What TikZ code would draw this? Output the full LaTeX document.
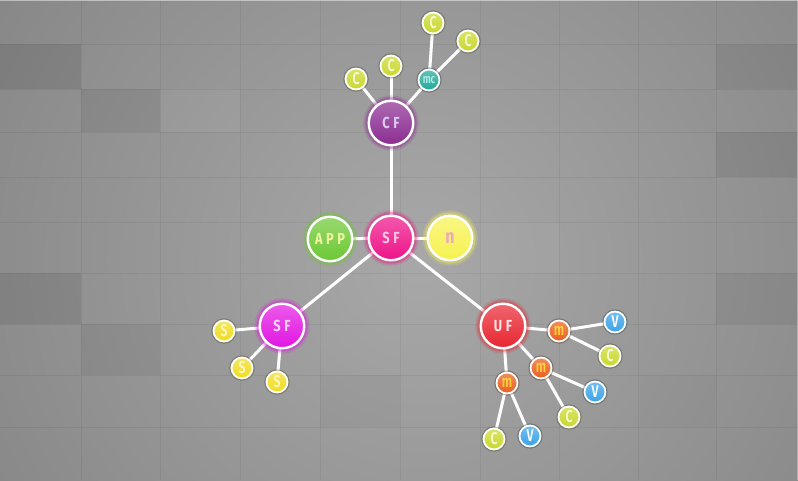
\documentclass[tikz,border=0pt]{standalone}
\usepackage{fontspec}
\newfontfamily\nodefont{Fira Sans}[FakeStretch=0.8]
\newfontfamily\smallfont{Fira Sans SemiBold}[FakeStretch=0.72]
\pgfdeclarelayer{bg}\pgfdeclarelayer{edges}\pgfsetlayers{bg,edges,main}
\definecolor{bgin}{HTML}{A8A8A8}
\definecolor{bgout}{HTML}{6A6A6A}
\definecolor{csf}{HTML}{EE1289}\definecolor{tsf}{HTML}{F9C9E0}
\definecolor{capp}{HTML}{6CC833}\definecolor{tapp}{HTML}{F2F5A0}
\definecolor{cn}{HTML}{F6F250}\definecolor{tn}{HTML}{F0A5C0}
\definecolor{ccf}{HTML}{8B2C92}\definecolor{tcf}{HTML}{DCCDF0}
\definecolor{csfl}{HTML}{E214E2}\definecolor{tsfl}{HTML}{F8D5F8}
\definecolor{cuf}{HTML}{E82530}\definecolor{tuf}{HTML}{FFE5E5}
\definecolor{cm}{HTML}{E95E1E}\definecolor{tm}{HTML}{FFD23A}
\definecolor{cv}{HTML}{3AA3E8}\definecolor{tv}{HTML}{FFFFFF}
\definecolor{cc}{HTML}{C9D82B}\definecolor{tc}{HTML}{F4F9D8}
\definecolor{cs}{HTML}{F0DC1F}\definecolor{ts}{HTML}{FFF6C0}
\definecolor{cmc}{HTML}{20A898}\definecolor{tmc}{HTML}{B8EDE5}
\tikzset{
  bub/.style 2 args={circle, draw=white, inner sep=0pt,
    top color=#1!70!white, bottom color=#1, text=#2},
  bigbub/.style 2 args={bub={#1}{#2}, minimum size=44.5pt, line width=2.4pt,
    font=\nodefont\bfseries\fontsize{16}{16}\selectfont\addfontfeatures{LetterSpace=22},
    preaction={draw=#1, draw opacity=0.18, line width=11pt},
    preaction={draw=#1, draw opacity=0.35, line width=7pt}},
  smallbub/.style 2 args={bub={#1}{#2}, minimum size=21pt, line width=1.8pt,
    font=\smallfont\fontsize{17}{17}\selectfont,
    preaction={draw=black, draw opacity=0.18, line width=4.5pt},
    preaction={draw=#1!60!black, draw opacity=0.35, line width=3pt}},
  edge/.style={draw=white, line width=3pt},
  tileline/.style={draw=black, draw opacity=0.05, line width=0.8pt},
}
\begin{document}
\begin{tikzpicture}[x=1pt,y=-1pt]
\useasboundingbox (0,0) rectangle (798,480);
\begin{pgfonlayer}{bg}
  \clip (0,0) rectangle (798,480);
  \fill[inner color=bgin, outer color=bgout] (-530,-690) rectangle (1370,1210);
  \foreach \xa/\ya/\xb/\yb/\op in {0/44/81/89/0.09, 81/89/160/132/0.06,
      716/44/797/89/0.06, 716/132/797/177/0.07, 0/273/81/324/0.08,
      81/324/160/375/0.05, 716/273/797/324/0.05, 320/375/400/427/0.03,
      640/375/716/427/0.02}
    \fill[black, opacity=\op] (\xa,\ya) rectangle (\xb,\yb);
  \fill[white, opacity=0.04] (160,89) rectangle (240,132);
  \fill[white, opacity=0.03] (480,222) rectangle (559,273);
  \foreach \x in {81,160,240,320,400,480,559,638,716}
    \draw[tileline] (\x,0) -- (\x,480);
  \foreach \y in {44,89,132,177,222,273,324,375,427}
    \draw[tileline] (0,\y) -- (798,\y);
  \draw[white, opacity=0.45, line width=1.2pt] (0,0.6) -- (798,0.6);
  \draw[white, opacity=0.3, line width=1.2pt] (797.4,0) -- (797.4,480);
\end{pgfonlayer}

% big nodes
\node[bigbub={csf}{tsf}]  (SF)  at (391,238) {SF};
\node[bigbub={capp}{tapp}] (APP) at (330,239) {APP};
\node[bigbub={cn}{tn}, font=\nodefont\bfseries\fontsize{20}{20}\selectfont] (N) at (450,238) {n};
\node[bigbub={ccf}{tcf}]  (CF)  at (391,123) {CF};
\node[bigbub={csfl}{tsfl}] (SFL) at (282,326) {SF};
\node[bigbub={cuf}{tuf}]  (UF)  at (503,326) {UF};

% CF branch
\node[smallbub={cmc}{tmc}, font=\smallfont\fontsize{13}{13}\selectfont] (MC) at (429,80) {mc};
\node[smallbub={cc}{tc}] (C1) at (356,79) {C};
\node[smallbub={cc}{tc}] (C2) at (391,66) {C};
\node[smallbub={cc}{tc}] (C3) at (433,23) {C};
\node[smallbub={cc}{tc}] (C4) at (468,41) {C};

% SF left branch
\node[smallbub={cs}{ts}] (S1) at (224,331) {S};
\node[smallbub={cs}{ts}] (S2) at (242,368) {S};
\node[smallbub={cs}{ts}] (S3) at (277,382) {S};

% UF branch
\node[smallbub={cm}{tm}] (M1) at (559,331) {m};
\node[smallbub={cm}{tm}] (M2) at (541,368) {m};
\node[smallbub={cm}{tm}] (M3) at (507,383) {m};
\node[smallbub={cv}{tv}] (V1) at (615,322) {V};
\node[smallbub={cc}{tc}] (C5) at (610,356) {C};
\node[smallbub={cv}{tv}] (V2) at (595,392) {V};
\node[smallbub={cc}{tc}] (C6) at (569,417) {C};
\node[smallbub={cc}{tc}] (C7) at (494,439) {C};
\node[smallbub={cv}{tv}] (V3) at (530,436) {V};

\begin{pgfonlayer}{edges}
  \foreach \a/\b in {SF/CF, SF/APP, SF/N, SF/SFL, SF/UF,
      CF/C1, CF/C2, CF/MC, MC/C3, MC/C4,
      SFL/S1, SFL/S2, SFL/S3,
      UF/M1, UF/M2, UF/M3, M1/V1, M1/C5, M2/V2, M2/C6, M3/C7, M3/V3}
    \draw[edge] (\a.center) -- (\b.center);
\end{pgfonlayer}
\end{tikzpicture}
\end{document}
